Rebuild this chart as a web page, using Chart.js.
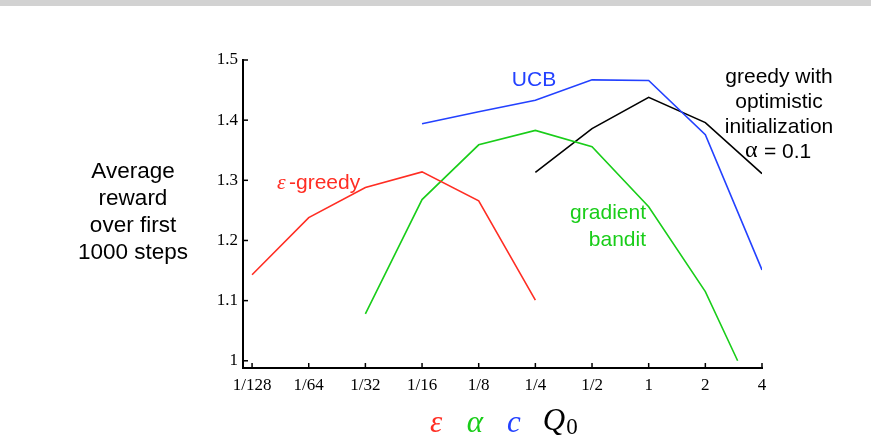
<!DOCTYPE html>
<html>
<head>
<meta charset="utf-8">
<script src="https://cdn.jsdelivr.net/npm/chart.js@4"></script>
<style>
  html, body { margin: 0; padding: 0; background: #fff; }
  #topbar { position: absolute; left: 0; top: 0; width: 871px; height: 6px; background: #d2d2d2; }
  #wrap { position: absolute; left: 0; top: 0; width: 871px; height: 447px; }
</style>
</head>
<body>
<div id="wrap"><canvas id="bandits" width="871" height="447"></canvas></div>
<div id="topbar"></div>
<script>
// x positions are log2 of the parameter value (1/128 -> -7 ... 4 -> 2)
const xTickLabels = ["1/128", "1/64", "1/32", "1/16", "1/8", "1/4", "1/2", "1", "2", "4"];
const xTickPos = [-7, -6, -5, -4, -3, -2, -1, 0, 1, 2];
const yTickVals = [1, 1.1, 1.2, 1.3, 1.4, 1.5];
const yTickLabels = ["1", "1.1", "1.2", "1.3", "1.4", "1.5"];

const epsX = [-7, -6, -5, -4, -3, -2];
const epsY = [1.143, 1.238, 1.288, 1.314, 1.266, 1.101];

const gradX = [-5, -4, -3, -2, -1, 0, 1, 1.57];
const gradY = [1.078, 1.268, 1.359, 1.383, 1.356, 1.256, 1.115, 1.0];

const ucbX = [-4, -3, -2, -1, 0, 1, 2];
const ucbY = [1.394, 1.414, 1.433, 1.467, 1.466, 1.376, 1.151];

const optX = [-2, -1, 0, 1, 2];
const optY = [1.313, 1.386, 1.438, 1.396, 1.311];

const RED = "rgb(255,45,35)";
const GREEN = "rgb(25,205,25)";
const BLUE = "rgb(35,65,255)";
const BLACK = "rgb(0,0,0)";
const SANS = "'Liberation Sans', Arial, sans-serif";
const SERIF = "'Liberation Serif', 'Times New Roman', serif";

function pts(xs, ys) {
    return xs.map((x, i) => ({ x: x, y: ys[i] }));
}
function line(data, color) {
    return { data: data, borderColor: color, borderWidth: 1.6, pointRadius: 0, fill: false, tension: 0 };
}

// inward ticks + text labels
const extras = {
    id: "extras",
    afterDraw(chart) {
        const ctx = chart.ctx;
        const xs = chart.scales.x, ys = chart.scales.y;
        const area = chart.chartArea;
        ctx.save();
        ctx.strokeStyle = "#000";
        ctx.lineWidth = 1.5;
        yTickVals.forEach(v => {
            const p = ys.getPixelForValue(v);
            ctx.beginPath(); ctx.moveTo(area.left, p); ctx.lineTo(area.left + 5, p); ctx.stroke();
        });
        xTickPos.forEach(v => {
            const p = xs.getPixelForValue(v);
            ctx.beginPath(); ctx.moveTo(p, area.bottom); ctx.lineTo(p, area.bottom - 5); ctx.stroke();
        });

        ctx.font = "22.5px " + SANS;
        ctx.textAlign = "center";
        ctx.textBaseline = "middle";
        ctx.fillStyle = "#000";
        ["Average", "reward", "over first", "1000 steps"].forEach((t, i) => ctx.fillText(t, 133, 172 + i * 26.8));

        ctx.font = "21px " + SANS;
        ctx.fillStyle = BLUE;
        ctx.fillText("UCB", 534, 80);

        ctx.fillStyle = BLACK;
        ["greedy with", "optimistic", "initialization"].forEach((t, i) => ctx.fillText(t, 779, 77 + i * 25));
        ctx.textAlign = "left";
        ctx.fillText("= 0.1", 764, 152);
        ctx.font = "24px " + SERIF;
        ctx.fillText("\u03b1", 745, 151);

        ctx.font = "21px " + SANS;
        ctx.fillStyle = GREEN;
        ctx.textAlign = "right";
        ctx.fillText("gradient", 646, 213);
        ctx.fillText("bandit", 646, 240);

        ctx.fillStyle = RED;
        ctx.textAlign = "left";
        ctx.font = "italic 22px " + SERIF;
        ctx.fillText("\u03b5", 277, 183);
        ctx.font = "21px " + SANS;
        ctx.fillText("-greedy", 289, 183);

        ctx.font = "italic 31px " + SERIF;
        ctx.textAlign = "center";
        ctx.fillStyle = RED; ctx.fillText("\u03b5", 436, 424);
        ctx.fillStyle = GREEN; ctx.fillText("\u03b1", 475, 424);
        ctx.fillStyle = BLUE; ctx.fillText("c", 514, 424);
        ctx.fillStyle = BLACK; ctx.fillText("Q", 554, 422);
        ctx.font = "23px " + SERIF;
        ctx.fillText("0", 572, 428);
        ctx.restore();
    }
};

new Chart(document.getElementById("bandits"), {
    type: "line",
    data: {
        datasets: [
            line(pts(epsX, epsY), RED),
            line(pts(gradX, gradY), GREEN),
            line(pts(ucbX, ucbY), BLUE),
            line(pts(optX, optY), BLACK),
        ],
    },
    options: {
        responsive: false,
        animation: false,
        layout: { padding: { top: 60, right: 109, left: 0, bottom: 0 } },
        plugins: { legend: { display: false }, tooltip: { enabled: false } },
        scales: {
            x: {
                type: "linear",
                min: -7.16,
                max: 2,
                afterBuildTicks: s => { s.ticks = xTickPos.map(v => ({ value: v })); },
                afterFit: s => { s.height = 79; },
                grid: { display: false, drawTicks: false },
                border: { color: "#000", width: 2 },
                ticks: {
                    padding: 7,
                    color: "#000",
                    font: { family: SERIF, size: 17 },
                    callback: (v, i) => xTickLabels[i],
                    maxRotation: 0,
                },
            },
            y: {
                min: 0.988,
                max: 1.5,
                afterBuildTicks: s => { s.ticks = yTickVals.map(v => ({ value: v })); },
                afterFit: s => { s.width = 243; },
                grid: { display: false, drawTicks: false },
                border: { color: "#000", width: 2 },
                ticks: {
                    padding: 5,
                    color: "#000",
                    font: { family: SERIF, size: 17 },
                    callback: (v, i) => yTickLabels[i],
                },
            },
        },
    },
    plugins: [extras],
});
</script>
</body>
</html>
